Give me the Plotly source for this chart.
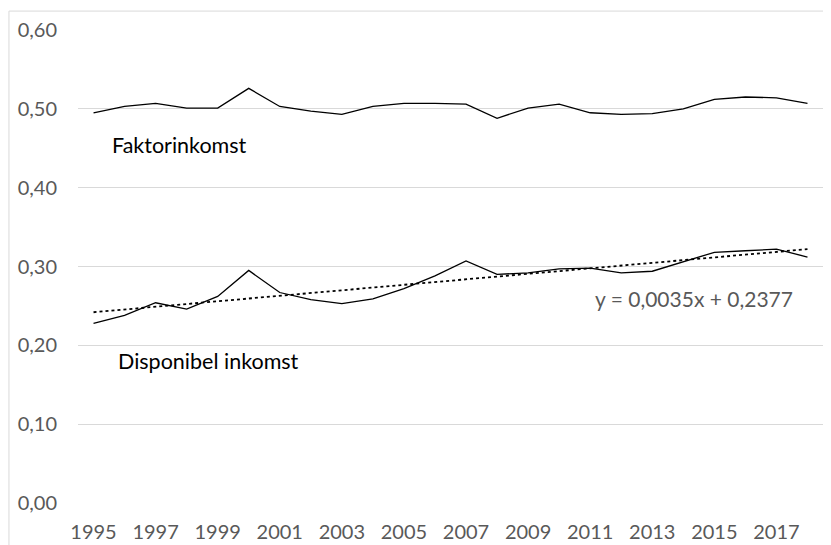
import numpy as np
import plotly.graph_objects as go

years = list(range(1995, 2019))
faktorinkomst = [0.495, 0.503, 0.507, 0.501, 0.501, 0.526, 0.503, 0.497, 0.493, 0.503,
                 0.507, 0.507, 0.506, 0.488, 0.501, 0.506, 0.495, 0.493, 0.494, 0.500,
                 0.512, 0.515, 0.514, 0.507]
disponibel = [0.228, 0.238, 0.254, 0.246, 0.262, 0.295, 0.267, 0.258, 0.253, 0.259,
              0.272, 0.288, 0.307, 0.290, 0.292, 0.297, 0.298, 0.292, 0.294, 0.306,
              0.318, 0.320, 0.322, 0.312]
x_ticks = list(range(1995, 2018, 2))
x_ticktext = [str(y) for y in x_ticks]
y_ticks = [0.0, 0.1, 0.2, 0.3, 0.4, 0.5, 0.6]
y_ticktext = ["0,00", "0,10", "0,20", "0,30", "0,40", "0,50", "0,60"]
label_upper = "Faktorinkomst"
label_lower = "Disponibel inkomst"
trend_label = "y = 0,0035x + 0,2377"

idx = np.arange(1, len(years) + 1)
slope, intercept = np.polyfit(idx, disponibel, 1)
trend = list(slope * idx + intercept)

FONT = "Lato"
fig = go.Figure()
fig.add_trace(go.Scatter(x=years, y=faktorinkomst, mode="lines",
                         line=dict(color="#000000", width=1.3), showlegend=False))
fig.add_trace(go.Scatter(x=years, y=disponibel, mode="lines",
                         line=dict(color="#000000", width=1.3), showlegend=False))
fig.add_trace(go.Scatter(x=years, y=trend, mode="lines",
                         line=dict(color="#000000", width=1.8, dash="dot"), showlegend=False))

fig.add_annotation(x=1995.53, y=0.454, text=label_upper, showarrow=False, xanchor="left",
                   yanchor="middle", font=dict(family=FONT, size=21.5, color="#000000"))
fig.add_annotation(x=1995.72, y=0.180, text=label_lower, showarrow=False, xanchor="left",
                   yanchor="middle", font=dict(family=FONT, size=21.5, color="#000000"))
fig.add_annotation(x=2011.1, y=0.260, text=trend_label, showarrow=False, xanchor="left",
                   yanchor="middle", font=dict(family=FONT, size=21, color="#595959"))

# chart border (light gray frame, top and left visible)
fig.add_shape(type="rect", xref="paper", yref="paper", x0=-0.0927, y0=-0.3, x1=1.3, y1=1.040,
              line=dict(color="#d9d9d9", width=1), fillcolor="rgba(0,0,0,0)", layer="below")

# page body has an 8px margin, so the figure is sized and padded to compensate
fig.update_layout(
    width=823, height=537,
    margin=dict(l=70, r=8, t=22, b=42, autoexpand=False),
    paper_bgcolor="white", plot_bgcolor="white",
    font=dict(family=FONT, size=20, color="#595959"),
    xaxis=dict(range=[1994.5, 2018.5], tickvals=x_ticks, ticktext=x_ticktext,
               showgrid=False, zeroline=False, showline=False, ticks="", automargin=False,
               ticklabelstandoff=15, tickfont=dict(family=FONT, size=20, color="#595959")),
    yaxis=dict(range=[0, 0.6], tickvals=y_ticks, ticktext=y_ticktext,
               showgrid=True, gridcolor="#d9d9d9", gridwidth=1, zeroline=False,
               showline=False, ticks="", ticklabelstandoff=20, automargin=False,
               tickfont=dict(family=FONT, size=20, color="#595959")),
)
fig.write_html("out.html")
